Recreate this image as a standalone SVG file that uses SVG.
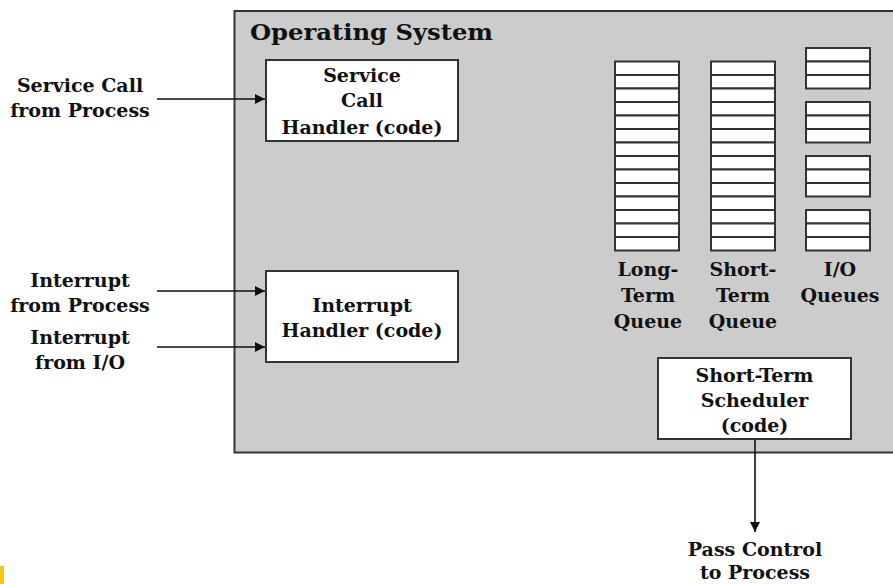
<svg xmlns="http://www.w3.org/2000/svg" width="893" height="584" viewBox="0 0 893 584">
  <style>
    .lbl { font-family: "DejaVu Serif", "Liberation Serif", serif; font-weight: bold; font-size: 19px; fill: #111; text-anchor: middle; }
    .title { font-family: "DejaVu Serif", "Liberation Serif", serif; font-weight: bold; font-size: 23px; fill: #111; }
    .box { fill: #ffffff; stroke: #333; stroke-width: 2; }
    .cell { fill: #ffffff; stroke: #333; stroke-width: 2; }
    .conn { stroke: #111; stroke-width: 1.6; fill: none; }
  </style>
  <defs>
    <marker id="arrow" viewBox="0 0 10 10" refX="10" refY="5" markerWidth="10" markerHeight="10" markerUnits="userSpaceOnUse" orient="auto">
      <path d="M0,0 L10,5 L0,10 z" fill="#111"/>
    </marker>
    <!-- one queue slot -->
    <rect id="slot" width="64" height="13.5" class="cell"/>
  </defs>
  <rect width="893" height="584" fill="#ffffff"/>
  <rect x="0" y="566" width="4" height="18" fill="#f5c518"/>

  <!-- operating system region -->
  <g id="os">
    <path d="M893,11 H234.5 V452.5 H893" fill="#cccccc" stroke="#333" stroke-width="2"/>
    <text class="title" x="250" y="40" textLength="243" lengthAdjust="spacingAndGlyphs">Operating System</text>
  </g>

  <g id="service-call-handler">
    <rect class="box" x="266" y="60" width="192" height="81"/>
    <text class="lbl" x="362" y="82">Service</text>
    <text class="lbl" x="362" y="107">Call</text>
    <text class="lbl" x="362" y="134">Handler (code)</text>
  </g>

  <g id="interrupt-handler">
    <rect class="box" x="266" y="271" width="192" height="91"/>
    <text class="lbl" x="362" y="312">Interrupt</text>
    <text class="lbl" x="362" y="337">Handler (code)</text>
  </g>

  <g id="long-term-queue">
    <use href="#slot" x="615" y="61.5"/><use href="#slot" x="615" y="75"/><use href="#slot" x="615" y="88.5"/>
    <use href="#slot" x="615" y="102"/><use href="#slot" x="615" y="115.5"/><use href="#slot" x="615" y="129"/>
    <use href="#slot" x="615" y="142.5"/><use href="#slot" x="615" y="156"/><use href="#slot" x="615" y="169.5"/>
    <use href="#slot" x="615" y="183"/><use href="#slot" x="615" y="196.5"/><use href="#slot" x="615" y="210"/>
    <use href="#slot" x="615" y="223.5"/><use href="#slot" x="615" y="237"/>
    <text class="lbl" x="648" y="276">Long-</text>
    <text class="lbl" x="648" y="302">Term</text>
    <text class="lbl" x="648" y="328">Queue</text>
  </g>

  <g id="short-term-queue">
    <use href="#slot" x="711" y="61.5"/><use href="#slot" x="711" y="75"/><use href="#slot" x="711" y="88.5"/>
    <use href="#slot" x="711" y="102"/><use href="#slot" x="711" y="115.5"/><use href="#slot" x="711" y="129"/>
    <use href="#slot" x="711" y="142.5"/><use href="#slot" x="711" y="156"/><use href="#slot" x="711" y="169.5"/>
    <use href="#slot" x="711" y="183"/><use href="#slot" x="711" y="196.5"/><use href="#slot" x="711" y="210"/>
    <use href="#slot" x="711" y="223.5"/><use href="#slot" x="711" y="237"/>
    <text class="lbl" x="743" y="276">Short-</text>
    <text class="lbl" x="743" y="302">Term</text>
    <text class="lbl" x="743" y="328">Queue</text>
  </g>

  <g id="io-queues">
    <use href="#slot" x="806" y="48"/><use href="#slot" x="806" y="61.5"/><use href="#slot" x="806" y="75"/>
    <use href="#slot" x="806" y="102"/><use href="#slot" x="806" y="115.5"/><use href="#slot" x="806" y="129"/>
    <use href="#slot" x="806" y="156"/><use href="#slot" x="806" y="169.5"/><use href="#slot" x="806" y="183"/>
    <use href="#slot" x="806" y="210"/><use href="#slot" x="806" y="223.5"/><use href="#slot" x="806" y="237"/>
    <text class="lbl" x="840" y="276">I/O</text>
    <text class="lbl" x="840" y="302">Queues</text>
  </g>

  <g id="short-term-scheduler">
    <rect class="box" x="658" y="358" width="193" height="81"/>
    <text class="lbl" x="754.5" y="382">Short-Term</text>
    <text class="lbl" x="754.5" y="407">Scheduler</text>
    <text class="lbl" x="754.5" y="432">(code)</text>
  </g>

  <!-- external labels -->
  <g id="service-call-source">
    <text class="lbl" x="80" y="92">Service Call</text>
    <text class="lbl" x="80" y="117">from Process</text>
  </g>
  <g id="interrupt-process-source">
    <text class="lbl" x="80" y="287">Interrupt</text>
    <text class="lbl" x="80" y="312">from Process</text>
  </g>
  <g id="interrupt-io-source">
    <text class="lbl" x="80" y="344">Interrupt</text>
    <text class="lbl" x="80" y="369">from I/O</text>
  </g>
  <g id="pass-control">
    <text class="lbl" x="755" y="556">Pass Control</text>
    <text class="lbl" x="755" y="579">to Process</text>
  </g>

  <g id="connectors">
    <line class="conn" x1="157" y1="99" x2="265" y2="99" marker-end="url(#arrow)"/>
    <line class="conn" x1="157" y1="291" x2="265" y2="291" marker-end="url(#arrow)"/>
    <line class="conn" x1="157" y1="347" x2="265" y2="347" marker-end="url(#arrow)"/>
    <line class="conn" x1="755" y1="440" x2="755" y2="532" marker-end="url(#arrow)"/>
  </g>
</svg>
